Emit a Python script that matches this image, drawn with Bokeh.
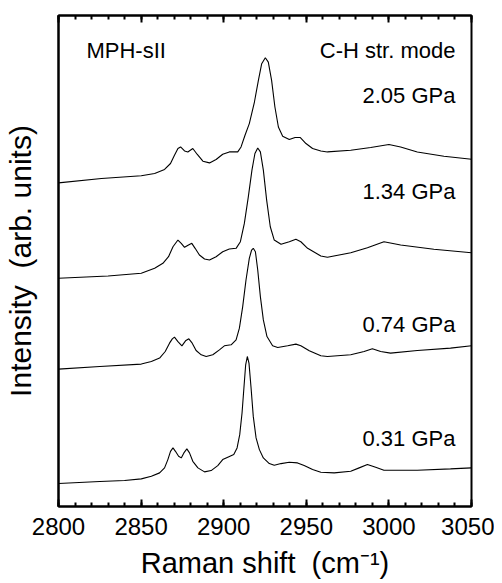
from bokeh.plotting import figure
from bokeh.models import LinearAxis, Range1d, Label, FixedTicker, CustomJSTickFormatter
from bokeh.embed import file_html
from bokeh.resources import INLINE

# ---- data ----
x_031 = [2800, 2825, 2840, 2850.1, 2856.2, 2861.2, 2864.2, 2866.2, 2867.8, 2869.3, 2870.8, 2872.7,
         2874.3, 2875.9, 2877.7, 2879.3, 2881.3, 2884.4, 2888.4, 2892.4, 2896.4, 2899.4, 2902.8,
         2906.1, 2908.1, 2909.7, 2911.1, 2912.3, 2913.3, 2914.3, 2915.3, 2916.5, 2917.9, 2919.6,
         2921.6, 2924, 2927.6, 2930.6, 2934.7, 2939.7, 2944.7, 2948.7, 2953.8, 2958.8, 2966.9,
         2976.9, 2982, 2987, 2992, 2997, 3017.2, 3037.3, 3050]
y_031 = [23, 25, 26, 27.7, 30.3, 33.7, 38.7, 47, 55.3, 58.7, 55.3, 50.3,
         48.7, 53.7, 57.7, 53.7, 45.3, 38.7, 34.7, 36, 41, 47, 49.7,
         52, 58.7, 72, 93.7, 120.3, 142, 150.3, 143.7, 120.3, 90.3, 68.7,
         57, 48.7, 43, 41.3, 43, 44.3, 43.7, 41, 37, 34.3, 33.7,
         35.3, 38.7, 42, 39.3, 36.3, 36.3, 37.7, 38.7]

x_074 = [2800, 2825, 2850.1, 2856.2, 2861.2, 2864.6, 2867.2, 2868.9, 2870.2, 2872.3, 2874.7, 2876.9,
         2878.9, 2880.7, 2883.3, 2886.4, 2889.4, 2893.4, 2897.4, 2900.4, 2904.5, 2907.5, 2909.5,
         2911.5, 2913.5, 2915.5, 2916.9, 2917.9, 2919.2, 2920.6, 2922.2, 2924, 2926.2, 2929.6,
         2932.7, 2938.7, 2943.7, 2946.7, 2951.8, 2958.8, 2962.8, 2976.9, 2985, 2990, 2995, 3001,
         3017.2, 3037.3, 3050]
y_074 = [137.7, 140.3, 142.7, 145.3, 148.7, 155.3, 163.7, 168, 169.7, 165.3, 161, 166,
         168, 164.3, 156.3, 152, 150.3, 152, 157, 161, 162, 167, 178.7,
         200.3, 227, 248.7, 257, 258.7, 255.3, 237, 210.3, 187, 170.3, 161,
         159.3, 161, 162.7, 161, 156, 151, 150.3, 152, 155.3, 158, 155.3, 153.7,
         156.3, 158.7, 161]

x_134 = [2800, 2830, 2850.1, 2858.2, 2863.2, 2866.6, 2869.3, 2872.3, 2874.3, 2876.3, 2878.7, 2880.7,
         2882.7, 2885.3, 2888.4, 2891.4, 2895.4, 2899.4, 2903.4, 2907.5, 2910.1, 2912.5, 2914.9,
         2917.1, 2918.9, 2920.6, 2922.2, 2924, 2926, 2928.2, 2930.6, 2934.7, 2939.7, 2943.7,
         2946.7, 2950.8, 2958.8, 2962.8, 2976.9, 2987, 2997, 3007.1, 3027.2, 3050]
y_134 = [228.7, 231, 233.7, 238.7, 243.7, 250.3, 260.3, 267, 263.7, 259.7, 262, 263.7,
         258.7, 252, 248, 247, 250.3, 255.3, 258, 258.7, 265.3, 283.7, 310.3,
         337, 353.7, 359.3, 355.3, 337, 307, 280.3, 267, 262.7, 265.3, 267.7,
         265.3, 258.7, 251, 249.7, 254.3, 259.3, 265.3, 262, 257.7, 254.3]

x_205 = [2800, 2826, 2850.1, 2858.2, 2864.2, 2867.8, 2870.2, 2872.3, 2873.9, 2876.3, 2878.3, 2881.3,
         2883.9, 2887.4, 2891.4, 2895.4, 2899.4, 2903.4, 2908.5, 2910.5, 2912.9, 2915.5, 2918.6,
         2921, 2923, 2925.2, 2927, 2929, 2931, 2933.1, 2935.7, 2939.7, 2943.2, 2946.4, 2949.8,
         2953.8, 2958.8, 2962.8, 2976.9, 2989, 3000, 3007.1, 3017.2, 3033.3, 3050]
y_205 = [324.3, 328.7, 331.5, 333.7, 337.7, 343.7, 352, 358.7, 360.3, 356.3, 355.3, 358.7,
         353, 346, 344.3, 347.7, 353, 355.3, 355.3, 360.3, 372, 383.7, 405.3,
         427, 443.7, 449.7, 445.3, 427, 400.3, 380.3, 371, 367.7, 369.7, 369.7, 363.7,
         358.7, 356.3, 355.3, 357, 359.7, 362.7, 360.3, 355.3, 351, 348]

series = [(x_031, y_031), (x_074, y_074), (x_134, y_134), (x_205, y_205)]
pressure_labels = ["0.31 GPa", "0.74 GPa", "1.34 GPa", "2.05 GPa"]
major_ticks = [2800, 2850, 2900, 2950, 3000, 3050]
minor_ticks = [2800 + 10 * i for i in range(26)]

FONT = "Liberation Sans"
NB = "\u00a0"

p = figure(width=494, height=581, output_backend="svg", toolbar_location=None,
           x_range=Range1d(2800, 3050), y_range=Range1d(0, 492),
           x_axis_location=None, y_axis_location=None,
           min_border_left=57, min_border_right=23, min_border_top=15, min_border_bottom=74)
p.grid.visible = False
p.outline_line_color = "black"
p.outline_line_width = 2
p.background_fill_color = "white"
p.border_fill_color = "white"

ticker = FixedTicker(ticks=major_ticks, minor_ticks=minor_ticks)

xb = LinearAxis(ticker=ticker, axis_label="Raman shift " + NB + "(cm\u207b\u00b9)")
xt = LinearAxis(ticker=ticker, formatter=CustomJSTickFormatter(code="return ''"))
yl = LinearAxis(formatter=CustomJSTickFormatter(code="return ''"),
                axis_label="Intensity " + NB + "(arb. units)")

for ax in (xb, xt):
    ax.major_tick_in = 7
    ax.major_tick_out = 0
    ax.minor_tick_in = 4
    ax.minor_tick_out = 0
    ax.major_tick_line_width = 2
    ax.minor_tick_line_width = 2
    ax.axis_line_width = 2
    ax.major_label_text_font = FONT
    ax.major_label_text_font_size = "24px"
    ax.major_label_text_color = "black"

xb.major_label_standoff = 11
xb.axis_label_text_font = FONT
xb.axis_label_text_font_size = "29px"
xb.axis_label_text_font_style = "normal"
xb.axis_label_text_color = "black"
xb.axis_label_standoff = 9
xt.major_label_standoff = 0
xt.major_label_text_font_size = "0px"

yl.major_tick_in = 0
yl.major_tick_out = 0
yl.minor_tick_in = 0
yl.minor_tick_out = 0
yl.axis_line_width = 2
yl.major_label_text_font_size = "0px"
yl.major_label_standoff = 0
yl.axis_label_text_font = FONT
yl.axis_label_text_font_size = "30px"
yl.axis_label_text_font_style = "normal"
yl.axis_label_text_color = "black"
yl.axis_label_standoff = 22

p.add_layout(xb, "below")
p.add_layout(xt, "above")
p.add_layout(yl, "left")

for xs, ys in series:
    p.line(xs, ys, line_color="black", line_width=1.1)

# annotations (positions in data units)
label_x_right = 3040.3
label_y = [68, 182, 316, 412]
for txt, yy in zip(pressure_labels, label_y):
    p.add_layout(Label(x=label_x_right, y=yy, text=txt, text_align="right", text_baseline="alphabetic",
                       text_font=FONT, text_font_size="22px", text_color="black"))
p.add_layout(Label(x=2816.9, y=457, text="MPH-sII", text_align="left", text_baseline="alphabetic",
                   text_font=FONT, text_font_size="22px", text_color="black"))
p.add_layout(Label(x=label_x_right, y=457, text="C-H str. mode", text_align="right", text_baseline="alphabetic",
                   text_font=FONT, text_font_size="22px", text_color="black"))

open("out.html", "w").write(file_html(p, INLINE))
